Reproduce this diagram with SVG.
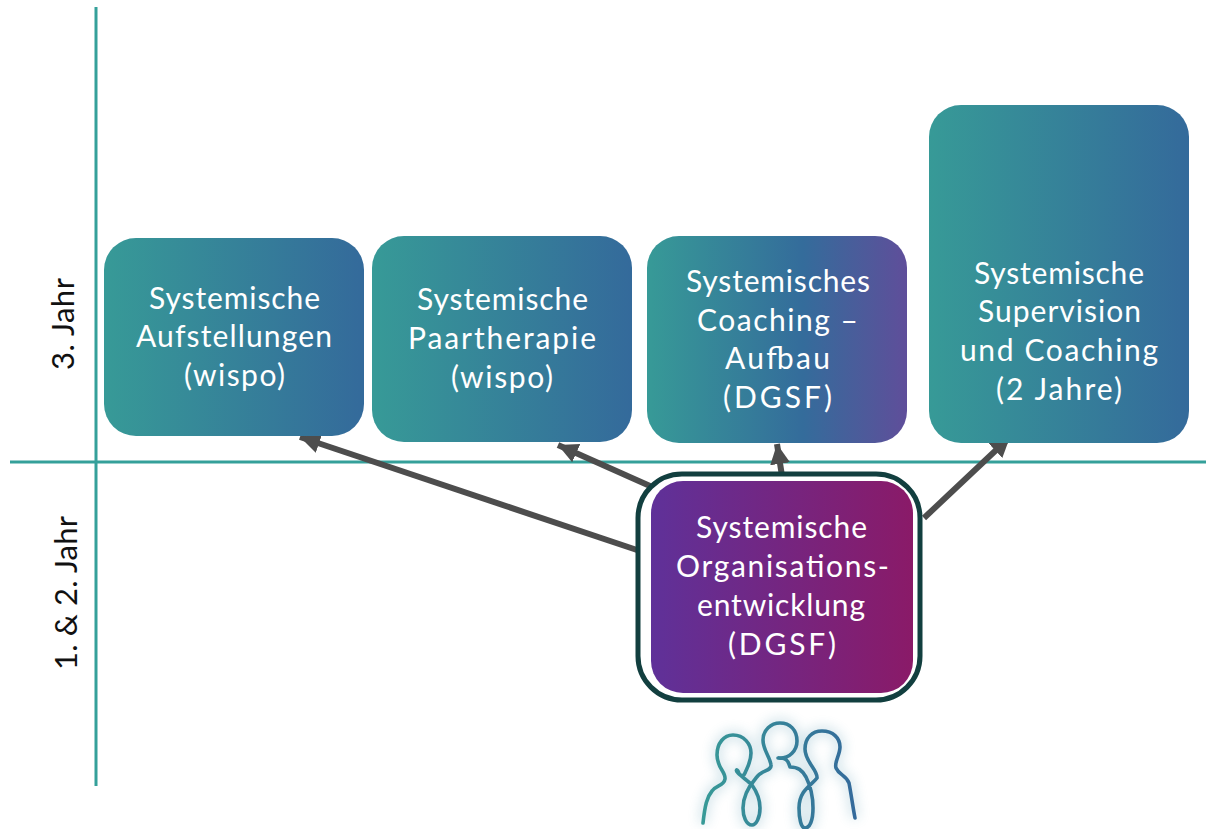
<svg xmlns="http://www.w3.org/2000/svg" width="1206" height="829" viewBox="0 0 1206 829">
<style>
text{font-family:"Lato","Liberation Sans",sans-serif;font-size:30px;fill:#fff}
.axis{stroke:#35A09A;stroke-width:3;fill:none}
.arrow{stroke:#4D4D4D;stroke-width:6;fill:none;marker-end:url(#head)}
.side{fill:#111;font-size:31px}
.person{fill:none;stroke:url(#pg);stroke-width:3.6;stroke-linecap:round;stroke-linejoin:round}
.glow{fill:none;stroke:#5f9fb5;stroke-width:9;opacity:.28;filter:url(#blur)}
</style>
<defs>
<linearGradient id="tb"><stop offset="0" stop-color="#379A97"/><stop offset="1" stop-color="#346A9B"/></linearGradient>
<linearGradient id="tbp"><stop offset="0" stop-color="#379A97"/><stop offset=".6" stop-color="#346C9B"/><stop offset="1" stop-color="#5F4E9A"/></linearGradient>
<linearGradient id="pm"><stop offset="0" stop-color="#5F3199"/><stop offset="1" stop-color="#8A1A68"/></linearGradient>
<linearGradient id="pg" gradientUnits="userSpaceOnUse" x1="702" y1="0" x2="855" y2="0"><stop offset="0" stop-color="#379A97"/><stop offset="1" stop-color="#346A9B"/></linearGradient>
<marker id="head" markerUnits="userSpaceOnUse" markerWidth="24" markerHeight="22" refX="20" refY="10" orient="auto"><path d="M0 0L20 10L0 20Z" fill="#4D4D4D"/></marker>
<filter id="blur" x="-20%" y="-20%" width="140%" height="140%"><feGaussianBlur stdDeviation="6"/></filter>
<path id="figs" d="M703 823C705 805 707 797 712 791C716 785 724 786 725 779C726 772 717 768 717 755C717 743 724 735 733 735C744 735 751 744 751 753C751 762 747 768 745 773C743 778 739 775 738 771C737 769 735 770 738 773C742 777 748 781 752 785C757 792 760 800 760 808C760 818 756 825 752 825C746 825 743 816 743 808C743 796 750 785 756 778C761 770 772 771 771 765C770 757 763 750 763 740C763 730 771 723 780 723C790 723 797 730 797 741C797 750 790 759 778 758C786 758 788 760 790 767C798 767 802 770 806 777C811 787 813 797 813 808C813 820 810 828 805 828C801 828 799 818 799 808C799 790 812 785 817 778C818 770 805 762 805 749C805 738 812 731 822 731C833 731 840 738 840 747C840 755 834 762 836 768C839 775 846 775 849 783C851 793 853 808 855 818"/>
</defs>

<g id="connectors">
<path class="axis" d="M96 7V786"/>
<path class="axis" d="M10 462H1206"/>
<path class="arrow" d="M637 550L300 437"/>
<path class="arrow" d="M650 486L558 445"/>
<path class="arrow" d="M782 476L777 444"/>
<path class="arrow" d="M924 518L1010 437"/>
</g>

<g id="label-year3"><text class="side" transform="translate(74 370) rotate(-90)" textLength="92" lengthAdjust="spacing">3. Jahr</text></g>
<g id="label-year12"><text class="side" transform="translate(77 670) rotate(-90)" textLength="154" lengthAdjust="spacing">1. &amp; 2. Jahr</text></g>

<g id="node-aufstellungen">
<rect x="104" y="238" width="260" height="198" rx="32" fill="url(#tb)"/>
<text x="149" y="309" textLength="171">Systemische</text>
<text x="136" y="347" textLength="196">Aufstellungen</text>
<text x="184" y="386" textLength="101">(wispo)</text>
</g>

<g id="node-paartherapie">
<rect x="372" y="236" width="260" height="206" rx="32" fill="url(#tb)"/>
<text x="417" y="310" textLength="171">Systemische</text>
<text x="408" y="349" textLength="188">Paartherapie</text>
<text x="451" y="388" textLength="102">(wispo)</text>
</g>

<g id="node-coaching">
<rect x="647" y="236" width="260" height="207" rx="32" fill="url(#tbp)"/>
<text x="686" y="292" textLength="184">Systemisches</text>
<text x="697" y="331" textLength="161">Coaching –</text>
<text x="725" y="369" textLength="105">Aufbau</text>
<text x="723" y="408" textLength="109">(DGSF)</text>
</g>

<g id="node-supervision">
<rect x="929" y="105" width="260" height="338" rx="32" fill="url(#tb)"/>
<text x="974" y="284" textLength="170">Systemische</text>
<text x="978" y="322" textLength="163">Supervision</text>
<text x="960" y="361" textLength="198">und Coaching</text>
<text x="996" y="400" textLength="126">(2 Jahre)</text>
</g>

<g id="node-organisation">
<rect x="638" y="474" width="282" height="226" rx="44" fill="#fff" stroke="#123F3F" stroke-width="5"/>
<rect x="651" y="481" width="262" height="212" rx="32" fill="url(#pm)"/>
<text x="696" y="538" textLength="171">Systemische</text>
<text x="676" y="577" textLength="213">Organisations-</text>
<text x="697" y="616" textLength="168">entwicklung</text>
<text x="728" y="655" textLength="108">(DGSF)</text>
</g>

<g id="people">
<use href="#figs" class="glow"/>
<use href="#figs" class="person"/>
</g>
</svg>
